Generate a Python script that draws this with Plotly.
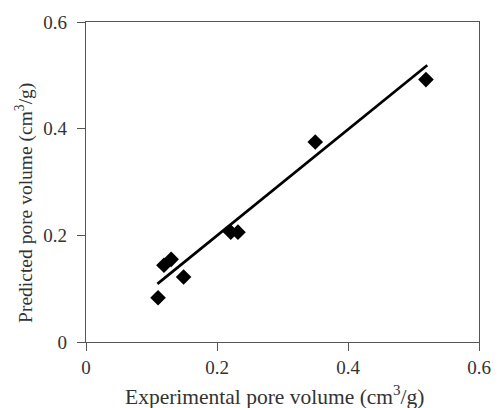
import plotly.graph_objects as go

exp_vol = [0.110, 0.119, 0.130, 0.149, 0.221, 0.232, 0.350, 0.519]
pred_vol = [0.083, 0.144, 0.155, 0.122, 0.206, 0.206, 0.375, 0.492]
fit_x = [0.109, 0.521]
fit_y = [0.109, 0.519]
tick_vals = [0, 0.2, 0.4, 0.6]
tick_text = ["0", "0.2", "0.4", "0.6"]

FONT = "Liberation Serif, Times New Roman, serif"

fig = go.Figure()
fig.add_trace(go.Scatter(x=fit_x, y=fit_y, mode="lines",
                         line=dict(color="black", width=2.7), showlegend=False))
fig.add_trace(go.Scatter(x=exp_vol, y=pred_vol, mode="markers",
                         marker=dict(symbol="diamond", size=12, color="black"),
                         showlegend=False))

axis_common = dict(range=[0, 0.6], tickvals=tick_vals, ticktext=tick_text,
                   showgrid=False, zeroline=False, showline=True,
                   linecolor="#555", linewidth=1.3, mirror=True,
                   ticks="outside", ticklen=8, tickwidth=1.3, tickcolor="#555",
                   tickfont=dict(family=FONT, size=19, color="#333"))
fig.update_xaxes(**axis_common, ticklabelstandoff=0)
fig.update_yaxes(**axis_common, ticklabelstandoff=6)

fig.update_layout(
    width=503, height=408,
    margin=dict(l=86, r=18, t=16, b=66),
    paper_bgcolor="white", plot_bgcolor="white",
    font=dict(family=FONT, color="#333"),
    annotations=[
        dict(text="Experimental pore volume (cm<sup>3</sup>/g)", xref="paper", yref="paper",
             x=0.48, y=-0.118, xanchor="center", yanchor="top", showarrow=False,
             font=dict(family=FONT, size=21.5, color="#333")),
        dict(text="Predicted pore volume (cm<sup>3</sup>/g)", xref="paper", yref="paper",
             x=-0.155, y=0.435, xanchor="center", yanchor="middle", textangle=-90,
             showarrow=False, font=dict(family=FONT, size=19.5, color="#333")),
    ],
)

fig.write_html("out.html")
